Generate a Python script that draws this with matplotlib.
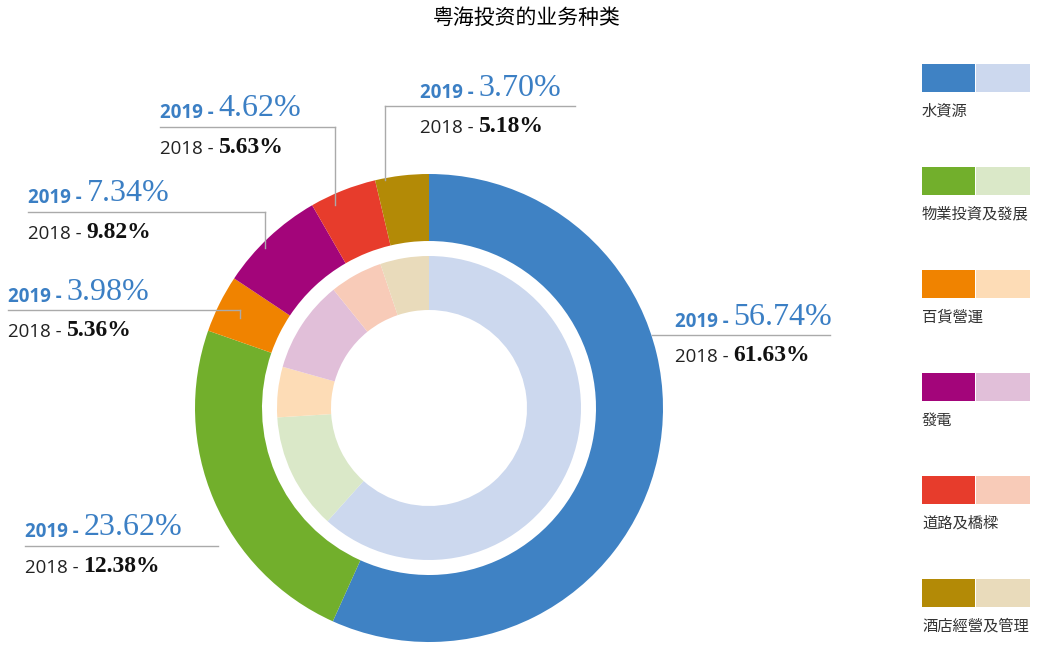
import matplotlib
matplotlib.use("Agg")
import matplotlib.pyplot as plt
from matplotlib.patches import Rectangle
from matplotlib import font_manager as fm

categories = ["水資源", "物業投資及發展", "百貨營運", "發電", "道路及橋樑", "酒店經營及管理"]
values_2019 = [56.74, 23.62, 3.98, 7.34, 4.62, 3.70]
values_2018 = [61.63, 12.38, 5.36, 9.82, 5.63, 5.18]
dark_colors = ["#3f82c4", "#72af2c", "#f08300", "#a3057a", "#e73c2c", "#b38a06"]
light_colors = ["#ccd8ee", "#dae8c8", "#fddcb6", "#e1bfd9", "#f8cbb8", "#e9dbbb"]
title = "粤海投资的业务种类"

cjk_file = None
for f in fm.findSystemFonts():
    if "CJK" in f and ("Regular" in f or "CJK-" in f):
        cjk_file = f
        if "Regular" in f:
            break
if cjk_file:
    def cjkprop(size):
        return fm.FontProperties(fname=cjk_file, size=size)
else:
    def cjkprop(size):
        return fm.FontProperties(family="Noto Sans CJK SC", size=size)

W, H = 1054, 649
fig = plt.figure(figsize=(W / 100, H / 100), dpi=100)
ax = fig.add_axes([0, 0, 1, 1])

def Y(py):
    return H - py

cx, cy = 429, Y(408)
ax.pie(values_2019, colors=dark_colors, radius=234, center=(cx, cy), startangle=90,
       counterclock=False, wedgeprops=dict(width=67, linewidth=0), frame=True)
ax.pie(values_2018, colors=light_colors, radius=152, center=(cx, cy), startangle=90,
       counterclock=False, wedgeprops=dict(width=54, linewidth=0), frame=True)
ax.set_xlim(0, W)
ax.set_ylim(0, H)
ax.set_aspect("equal")
ax.axis("off")

fig.text(0.5, 1 - 18 / H, title, ha="center", va="center", fontproperties=cjkprop(15))

label_pos = [
    (675, 327, 335, 830, None),
    (25, 537, 546, 218, None),
    (8, 302, 310, 240, 318),
    (28, 203, 212, 265, 248),
    (160, 118, 127, 335, 205),
    (420, 98, 106, 575, None),
]
blue = "#3b7fc4"
line_c = "#aaaaaa"
for i, (tx, ty, ly, lx2, vy) in enumerate(label_pos):
    t1 = ax.text(tx, Y(ty), "2019 - ", fontsize=13.5, fontweight="bold", color=blue,
                 fontfamily="Open Sans", va="baseline")
    ax.annotate(f"{values_2019[i]:.2f}%", xycoords=t1, xy=(1, 0), va="bottom",
                fontsize=23, color=blue, fontfamily="Liberation Serif")
    t2 = ax.text(tx, Y(ly + 27), "2018 - ", fontsize=13.5, color="#222222",
                 fontfamily="Open Sans", va="baseline")
    ax.annotate(f"{values_2018[i]:.2f}%", xycoords=t2, xy=(1, 0), va="bottom",
                fontsize=17, fontweight="bold", color="#111111", fontfamily="Liberation Serif")
    if i == 5:
        ax.plot([385, lx2], [Y(ly), Y(ly)], color=line_c, lw=1)
        ax.plot([385, 385], [Y(ly), Y(180)], color=line_c, lw=1)
    elif i == 0:
        ax.plot([652, lx2], [Y(ly), Y(ly)], color=line_c, lw=1)
    else:
        ax.plot([tx, lx2], [Y(ly), Y(ly)], color=line_c, lw=1)
        if vy:
            ax.plot([lx2, lx2], [Y(ly), Y(vy)], color=line_c, lw=1)

for i, name in enumerate(categories):
    top = 64 + i * 103
    ax.add_patch(Rectangle((922, Y(top + 28)), 53, 28, color=dark_colors[i], lw=0))
    ax.add_patch(Rectangle((976, Y(top + 28)), 54, 28, color=light_colors[i], lw=0))
    ax.text(922, Y(top + 47), name, fontproperties=cjkprop(11), color="#333333", va="center")

fig.savefig("out.png", dpi=100, facecolor="white")
